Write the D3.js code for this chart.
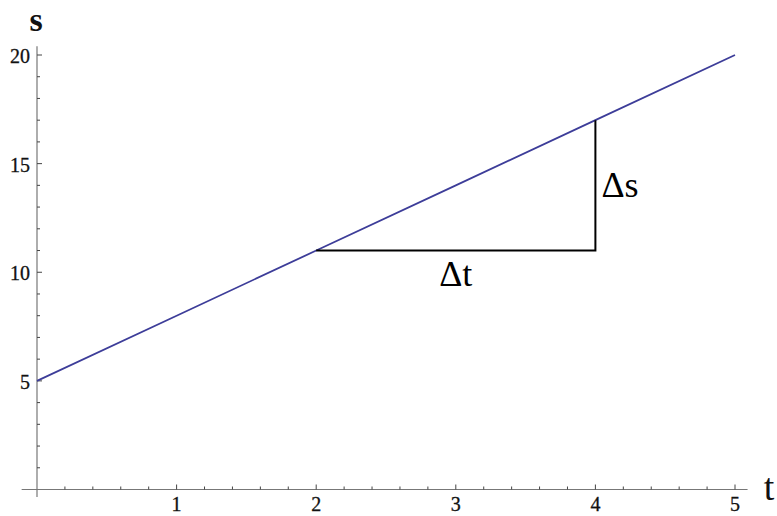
<!DOCTYPE html>
<html>
<head>
<meta charset="utf-8">
<script src="https://cdn.jsdelivr.net/npm/d3@7"></script>
<style>
  html, body { margin: 0; padding: 0; background: #fff; }
  svg { display: block; }
  text { font-family: "Liberation Serif", "DejaVu Serif", serif; }
</style>
</head>
<body>
<svg id="chart" width="777" height="516"></svg>
<script>
// Position–time line s = 5 + 3t and its slope triangle
const tValues = [0, 1, 2, 3, 4, 5];
const sValues = [5, 8, 11, 14, 17, 20];
const xTickValues = [1, 2, 3, 4, 5];
const yTickValues = [5, 10, 15, 20];
const triangleT = [2, 4, 4];
const triangleS = [11, 11, 17];

const svg = d3.select("#chart");
const x = d3.scaleLinear().domain([0, 5]).range([37, 735]);
const y = d3.scaleLinear().domain([0, 20]).range([489.5, 55]);

const axisColor = "#777";

// axis lines
svg.append("line")
  .attr("x1", x(-0.11)).attr("x2", x(5.09))
  .attr("y1", y(0)).attr("y2", y(0))
  .attr("stroke", axisColor).attr("stroke-width", 1.2);
svg.append("line")
  .attr("x1", x(0)).attr("x2", x(0))
  .attr("y1", y(-0.35)).attr("y2", y(20.4))
  .attr("stroke", axisColor).attr("stroke-width", 1.2);

// x ticks (major + minor, pointing up)
const xMinor = d3.range(1, 26).map(i => i / 5);
svg.append("g").selectAll("line").data(xMinor).join("line")
  .attr("x1", d => x(d)).attr("x2", d => x(d))
  .attr("y1", y(0))
  .attr("y2", d => y(0) - (Math.abs(d - Math.round(d)) < 1e-9 ? 5 : 3))
  .attr("stroke", "#444").attr("stroke-width", 1);

// y ticks (major + minor, pointing right)
const yMinor = d3.range(1, 21);
svg.append("g").selectAll("line").data(yMinor).join("line")
  .attr("x1", x(0))
  .attr("x2", d => x(0) + (d % 5 === 0 ? 5 : 3))
  .attr("y1", d => y(d)).attr("y2", d => y(d))
  .attr("stroke", "#444").attr("stroke-width", 1);

// tick labels
svg.append("g").selectAll("text").data(xTickValues).join("text")
  .attr("x", d => x(d)).attr("y", y(0) + 21)
  .attr("text-anchor", "middle")
  .style("font-size", "20px")
  .attr("fill", "#111").attr("stroke", "#111").attr("stroke-width", 0.3)
  .text(d => d);
svg.append("g").selectAll("text").data(yTickValues).join("text")
  .attr("x", x(0) - 7).attr("y", d => y(d) + 1)
  .attr("dy", "0.35em")
  .attr("text-anchor", "end")
  .style("font-size", "20px")
  .attr("fill", "#111").attr("stroke", "#111").attr("stroke-width", 0.3)
  .text(d => d);

// axis labels
svg.append("text")
  .attr("x", 36).attr("y", 31)
  .attr("text-anchor", "middle")
  .style("font-size", "34px").style("font-weight", "bold")
  .attr("fill", "#111").text("s");
svg.append("text")
  .attr("x", 769).attr("y", 500)
  .attr("text-anchor", "middle")
  .style("font-size", "38px")
  .attr("fill", "#111").text("t");

// the line
const line = d3.line().x((d, i) => x(tValues[i])).y(d => y(d));
svg.append("path")
  .datum(sValues)
  .attr("d", line)
  .attr("fill", "none")
  .attr("stroke", "#3d3d99")
  .attr("stroke-width", 1.8);

// slope triangle
const triLine = d3.line().x((d, i) => x(triangleT[i])).y(d => y(d));
svg.append("path")
  .datum(triangleS)
  .attr("d", triLine)
  .attr("fill", "none")
  .attr("stroke", "#000")
  .attr("stroke-width", 2);

svg.append("text")
  .attr("x", x(3)).attr("y", y(11) + 35)
  .attr("text-anchor", "middle")
  .style("font-size", "36px")
  .attr("fill", "#000").text("Δt");
svg.append("text")
  .attr("x", x(4) + 6).attr("y", y(14) + 12)
  .attr("text-anchor", "start")
  .style("font-size", "36px")
  .attr("fill", "#000").text("Δs");
</script>
</body>
</html>
